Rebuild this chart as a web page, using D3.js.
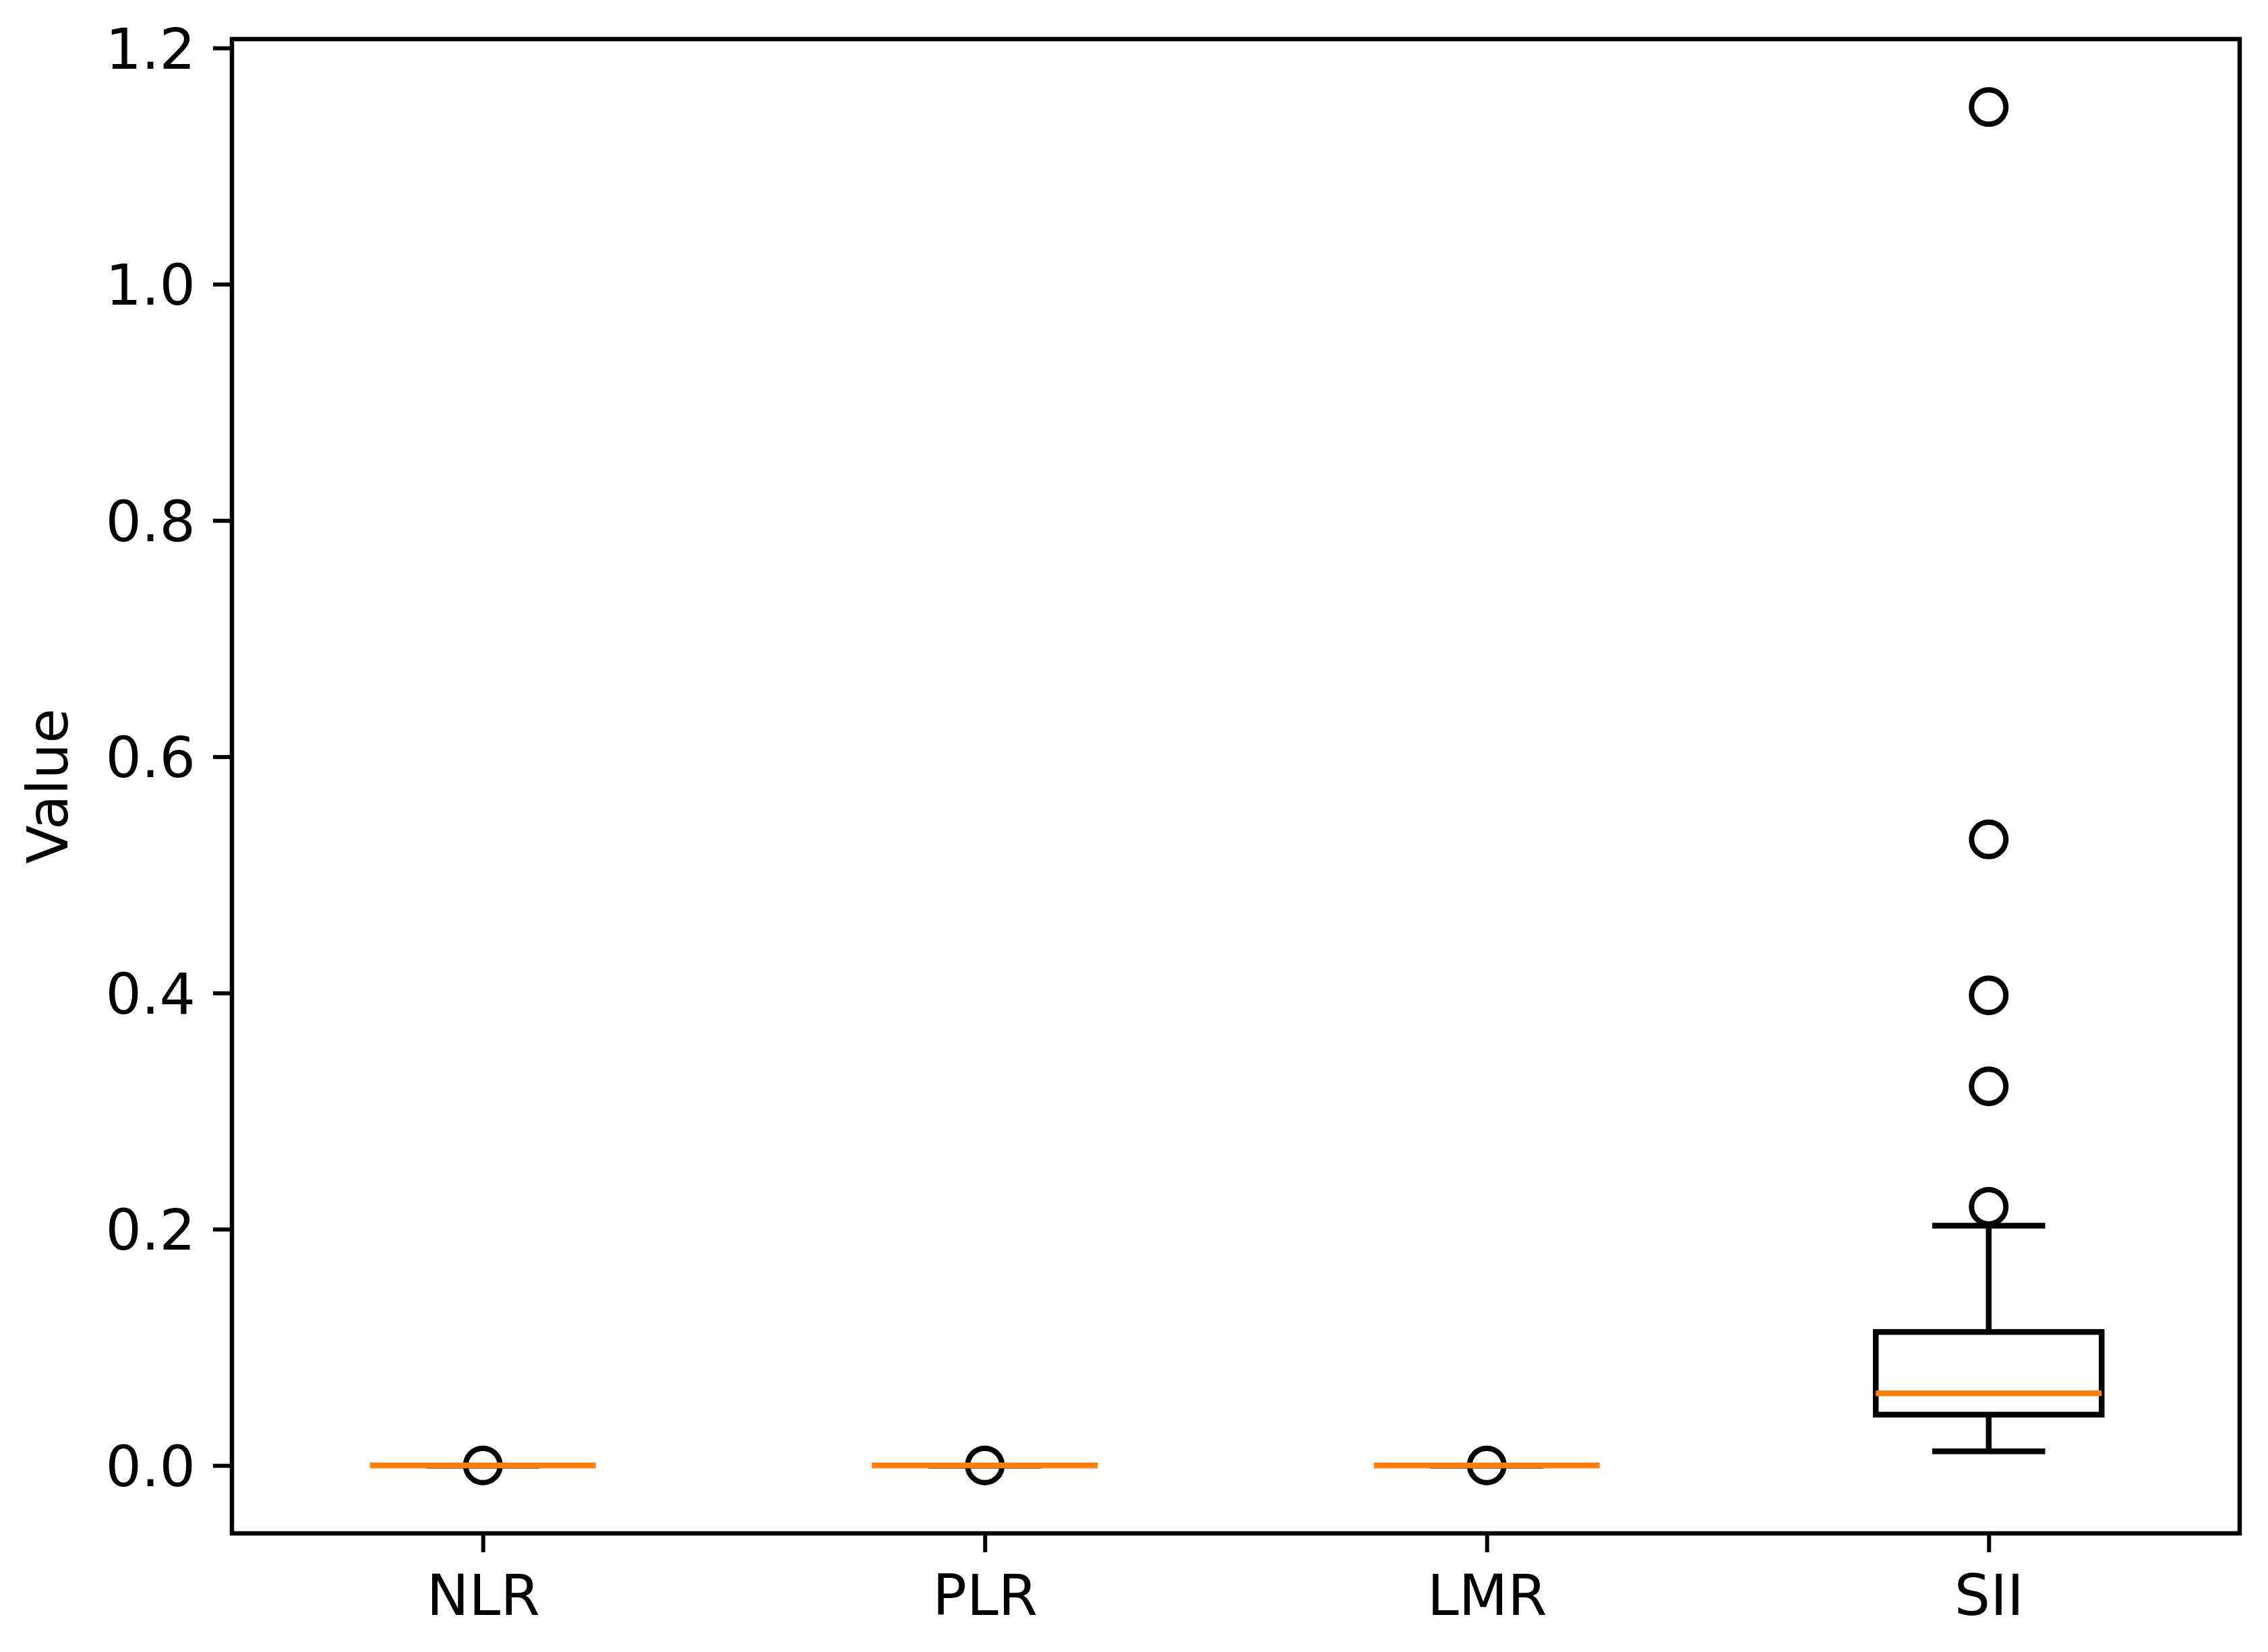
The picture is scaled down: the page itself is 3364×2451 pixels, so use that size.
<!DOCTYPE html>
<html>
<head>
<meta charset="utf-8">
<script src="https://cdn.jsdelivr.net/npm/d3@7"></script>
<style>
  html, body { margin: 0; padding: 0; background: #ffffff; }
  svg { display: block; }
  text { font-family: "DejaVu Sans", sans-serif; fill: #000; }
</style>
</head>
<body>
<svg id="chart" width="3364" height="2451"></svg>
<script>
// ---- data ----
const categories = ["NLR", "PLR", "LMR", "SII"];
const q1 = [0, 0, 0, 0.043];
const medians = [0, 0, 0, 0.061];
const q3 = [0, 0, 0, 0.113];
const whiskerLow = [0, 0, 0, 0.012];
const whiskerHigh = [0, 0, 0, 0.203];
const outliers = [[0], [0], [0], [0.219, 0.321, 0.398, 0.530, 1.150]];
const yTicks = [0, 0.2, 0.4, 0.6, 0.8, 1.0, 1.2];
const yTickLabels = ["0.0", "0.2", "0.4", "0.6", "0.8", "1.0", "1.2"];
const yLabel = "Value";

// ---- layout ----
const W = 3364, H = 2451;
const plot = { left: 344, top: 58, right: 3322, bottom: 2275 };
const fontSize = 84;
const tickLen = 28;
const spineW = 6.5;
const tickW = 6;
const lineW = 8.5;

const svg = d3.select("#chart");
svg.append("rect").attr("width", W).attr("height", H).attr("fill", "#fff");

const positions = categories.map((d, i) => i + 1);
const x = d3.scaleLinear().domain([0.5, 4.5]).range([plot.left, plot.right]);
const y = d3.scaleLinear().domain([-0.0575, 1.2075]).range([plot.bottom, plot.top]);

const boxW = 0.45;           // in data units
const capW = boxW / 2;

const g = svg.append("g");

categories.forEach((c, i) => {
  const p = positions[i];
  const xl = x(p - boxW / 2), xr = x(p + boxW / 2);
  const cl = x(p - capW / 2), cr = x(p + capW / 2);
  const xc = x(p);
  const grp = g.append("g");
  // box
  grp.append("rect")
    .attr("x", xl).attr("y", y(q3[i]))
    .attr("width", xr - xl).attr("height", Math.max(0, y(q1[i]) - y(q3[i])))
    .attr("fill", "none").attr("stroke", "#000").attr("stroke-width", lineW);
  // whiskers
  grp.append("line").attr("x1", xc).attr("x2", xc)
    .attr("y1", y(q1[i])).attr("y2", y(whiskerLow[i]))
    .attr("stroke", "#000").attr("stroke-width", lineW);
  grp.append("line").attr("x1", xc).attr("x2", xc)
    .attr("y1", y(q3[i])).attr("y2", y(whiskerHigh[i]))
    .attr("stroke", "#000").attr("stroke-width", lineW);
  // caps
  [whiskerLow[i], whiskerHigh[i]].forEach(v => {
    grp.append("line").attr("x1", cl).attr("x2", cr)
      .attr("y1", y(v)).attr("y2", y(v))
      .attr("stroke", "#000").attr("stroke-width", lineW);
  });
  // fliers
  grp.selectAll("circle.flier").data(outliers[i]).enter()
    .append("circle").attr("class", "flier")
    .attr("cx", xc).attr("cy", d => y(d)).attr("r", 25.5)
    .attr("fill", "none").attr("stroke", "#000").attr("stroke-width", 8);
  // median
  grp.append("line").attr("x1", xl).attr("x2", xr)
    .attr("y1", y(medians[i])).attr("y2", y(medians[i]))
    .attr("stroke", "#ff7f0e").attr("stroke-width", lineW);
});

// ---- spines ----
svg.append("rect")
  .attr("x", plot.left).attr("y", plot.top)
  .attr("width", plot.right - plot.left).attr("height", plot.bottom - plot.top)
  .attr("fill", "none").attr("stroke", "#000").attr("stroke-width", spineW)
  .attr("stroke-linejoin", "miter");

// ---- y axis ----
const yAxis = d3.axisLeft(y).tickValues(yTicks)
  .tickFormat((d, i) => yTickLabels[i]).tickSize(tickLen).tickPadding(26);
const yg = svg.append("g").attr("transform", `translate(${plot.left},0)`).call(yAxis);
yg.select(".domain").remove();
yg.selectAll(".tick line").attr("stroke", "#000").attr("stroke-width", tickW);
yg.selectAll(".tick text")
  .attr("font-size", fontSize).attr("font-family", "DejaVu Sans, sans-serif")
  .attr("fill", "#000").attr("dy", "0.36em");

// ---- x axis ----
const xAxis = d3.axisBottom(x).tickValues(positions)
  .tickFormat((d, i) => categories[i]).tickSize(tickLen).tickPadding(29);
const xg = svg.append("g").attr("transform", `translate(0,${plot.bottom})`).call(xAxis);
xg.select(".domain").remove();
xg.selectAll(".tick line").attr("stroke", "#000").attr("stroke-width", tickW);
xg.selectAll(".tick text")
  .attr("font-size", fontSize).attr("font-family", "DejaVu Sans, sans-serif")
  .attr("fill", "#000").attr("dy", "0.76em");

// ---- y label ----
svg.append("text")
  .attr("transform", `translate(${100},${(plot.top + plot.bottom) / 2}) rotate(-90)`)
  .attr("text-anchor", "middle")
  .attr("font-size", fontSize)
  .text(yLabel);
</script>
</body>
</html>
